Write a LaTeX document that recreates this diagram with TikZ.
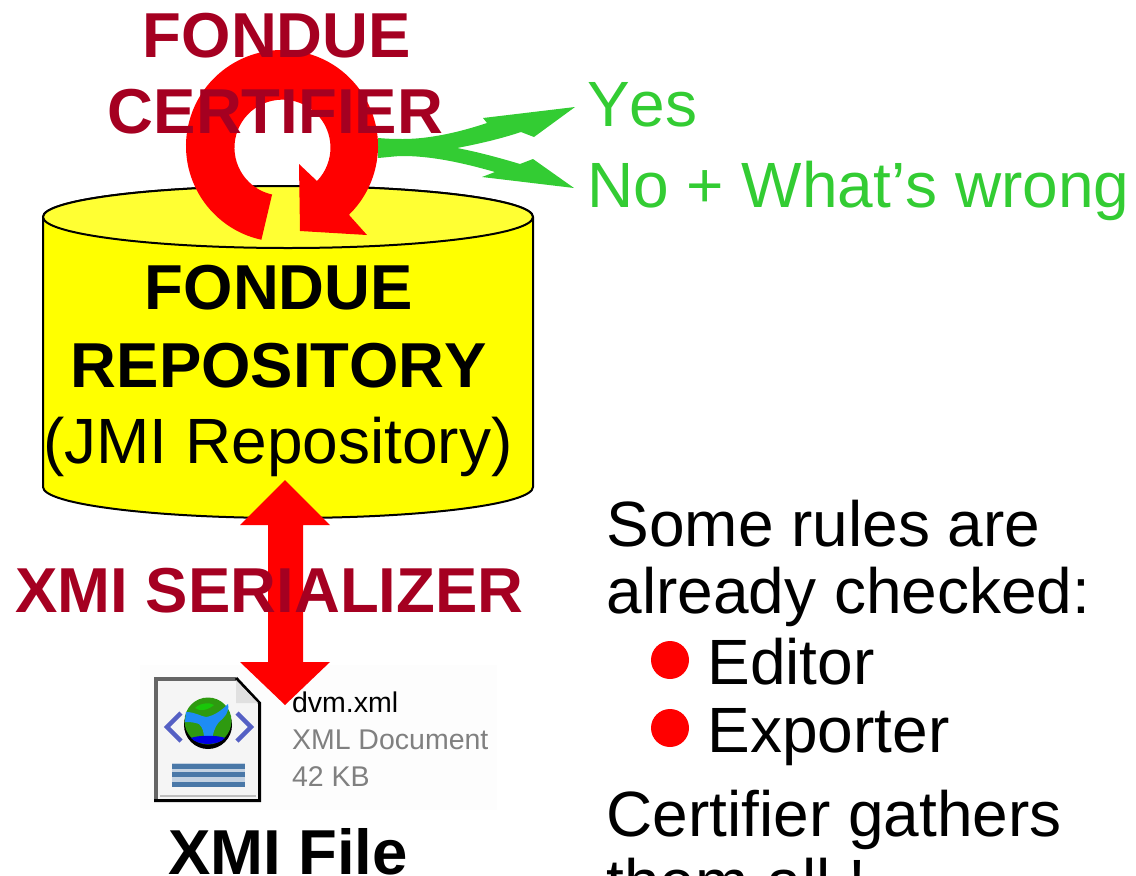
\documentclass[tikz,border=0pt]{standalone}
\usepackage{fontspec}
\setmainfont[Kerning=Off]{Liberation Sans}
\definecolor{dred}{HTML}{A50021}
\definecolor{lgreen}{HTML}{33CC33}
\definecolor{topy}{HTML}{FFFF33}
\definecolor{body}{HTML}{FFFF00}
\definecolor{pure}{HTML}{FF0000}
\definecolor{steel}{HTML}{4A78A8}
\definecolor{paleblue}{HTML}{C4D2E2}
\definecolor{chev}{HTML}{5560C4}
\definecolor{gleaf}{HTML}{2E9A10}
\definecolor{gsea}{HTML}{1E8CF5}
\tikzset{
  txt/.style={inner sep=0pt,outer sep=0pt,font=\fontsize{64}{64}\selectfont},
  bold/.style={txt,font=\fontsize{63.5}{64}\selectfont\bfseries},
  tiny/.style={inner sep=0pt,outer sep=0pt,anchor=base west,font=\fontsize{28.5}{28}\selectfont},
  blockred/.style={fill=pure,draw=none},
}
\begin{document}
\begin{tikzpicture}[x=1pt,y=1pt]
\useasboundingbox (0,0) rectangle (1136,-876);
\clip (0,0) rectangle (1136,-876);
% cylinder
\path[fill=body,draw=black,line width=2pt] (43,-217) -- (43,-487) arc[start angle=180,end angle=360,x radius=245pt,y radius=31pt] -- (533,-217) arc[start angle=0,end angle=180,x radius=245pt,y radius=31pt] -- cycle;
\path[fill=topy,draw=black,line width=2pt] (288,-217) ellipse[x radius=245pt,y radius=31pt];
% green fork
\fill[lgreen] (378,-138) .. controls (390,-139) and (396,-139) .. (403,-139)
  .. controls (430,-139) and (460,-132) .. (487,-123) -- (483,-118) -- (575,-107) -- (534,-137) -- (521,-132)
  .. controls (500,-139) and (478,-144) .. (457,-148)
  .. controls (478,-152) and (500,-158) .. (520,-164) -- (533,-159) -- (574,-188) -- (482,-177) -- (495,-172)
  .. controls (460,-162) and (430,-156) .. (403,-156) .. controls (396,-156) and (390,-157) .. (378,-158) -- cycle;
% circular arrow
\coordinate (ringc) at (282,-146);
\fill[blockred] (ringc) ++(257.6:96pt) arc[start angle=257.6,end angle=-45.8,radius=96pt]
  -- (367,-235) -- (300,-231) -- (299,-164) -- (317,-181)
  arc[start angle=-44,end angle=257.5,radius=48pt] -- cycle;
% icon
\fill[black!0.7] (140,-665) rectangle (497,-810);
\path[fill=black!4] (156,-679) -- (236,-679) -- (260,-703) -- (260,-800) -- (156,-800) -- cycle;
\draw[black!60,line width=3.5pt] (156,-800) -- (156,-679) -- (236,-679);
\draw[black!25,line width=2pt] (160,-796) -- (256,-796);
\draw[black,line width=3pt] (236,-678) -- (259.5,-703) -- (259.5,-800.5) -- (154,-800.5);
\fill[black!12] (236,-680) -- (236,-703) -- (258,-703) -- cycle;
% globe
\fill[black] (208,-725) circle[radius=24pt];
\fill[gleaf] (208,-721) circle[radius=23.5pt];
\fill[gsea] (186,-712) .. controls (195,-712) and (200,-716) .. (206,-717) .. controls (214,-716) and (222,-710) .. (228,-704) .. controls (230,-712) and (224,-718) .. (219,-722) .. controls (214,-728) and (213,-734) .. (212,-740) -- (204,-740) .. controls (204,-732) and (203,-728) .. (199,-724) .. controls (194,-722) and (188,-722) .. (185,-722) -- cycle;
\fill[blue!90!black] (191,-738) .. controls (198,-746) and (218,-746) .. (225,-738) .. controls (218,-735) and (198,-735) .. cycle;
\fill[green!45!gleaf] (195,-708) .. controls (200,-703) and (210,-702) .. (214,-705) .. controls (208,-710) and (200,-712) .. cycle;
\draw[chev,line width=4.5pt] (181,-713) -- (167,-727) -- (181,-741);
\draw[chev,line width=4.5pt] (237,-713) -- (251,-727) -- (237,-741);
\fill[paleblue] (172,-763) rectangle (245,-787);
\foreach \yy in {-766,-774.5,-784}{\fill[steel] (172,\yy-2.5) rectangle (245,\yy+2.5);}
\node[tiny] (fn) at (292,-712) {dvm.xml};
\node[tiny,text=black!50] (ft) at (292,-749) {XML Document};
\node[tiny,text=black!50] (fs) at (292,-786) {42 KB};
% double arrow
\fill[blockred] (285,-480) -- (330,-525) -- (303,-525) -- (303,-662) -- (330,-662) -- (285,-705) -- (240,-662) -- (268,-662) -- (268,-525) -- (240,-525) -- cycle;
% bullets
\fill[pure] (670,-660) circle[radius=19pt];
\fill[pure] (670,-728) circle[radius=19pt];
% texts
\node[bold,text=dred,anchor=base] (t1) at (277,-57) {FONDUE};
\node[bold,text=dred,anchor=base] (t2) at (275.5,-133) {CERTIFIER};
\node[txt,text=lgreen,anchor=base west] (yes) at (587,-126) {Yes};
\node[txt,text=lgreen,anchor=base west] (no) at (587,-207) {No + What’s wrong};
\node[bold,anchor=base] (r1) at (279,-309) {FONDUE};
\node[bold,anchor=base] (r2) at (279,-387) {REPOSITORY};
\node[txt,anchor=base] (r3) at (278,-463) {(JMI Repository)};
\node[bold,text=dred,anchor=base] (s) at (269.5,-612) {XMI SERIALIZER};
\node[bold,anchor=base] (f) at (288,-874) {XMI File};
\node[txt,anchor=base west] (a1) at (606.5,-546) {Some rules are};
\node[txt,anchor=base west] (a2) at (606.5,-613) {already checked:};
\node[txt,anchor=base west] (a3) at (707.5,-684) {Editor};
\node[txt,anchor=base west] (a4) at (707.5,-752) {Exporter};
\node[txt,anchor=base west] (a5) at (606.5,-836) {Certifier gathers};
\node[txt,anchor=base west] (a6) at (606.5,-904) {them all !};
\end{tikzpicture}
\end{document}
